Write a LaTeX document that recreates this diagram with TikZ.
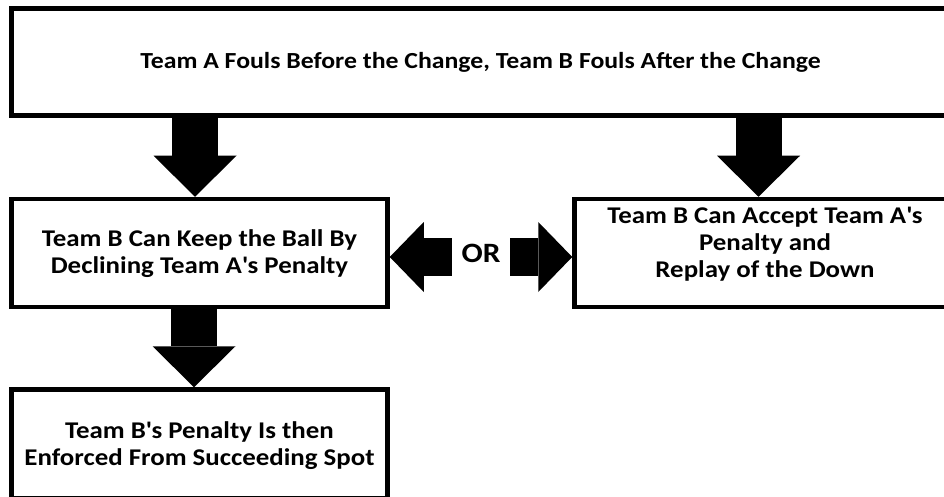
\documentclass[tikz,border=0pt]{standalone}
\usepackage{fontspec}
\setmainfont{Carlito}[FakeStretch=1.12]
\usetikzlibrary{arrows.meta,positioning}

\begin{document}
\begin{tikzpicture}[
  x=1pt, y=-1pt,
  box/.style={draw, line width=4.5pt, align=center, inner sep=0pt, font=\bfseries\fontsize{24}{27}\selectfont},
  downarrow/.style={line width=46pt, -{Triangle[width=83pt, length=41pt, line width=0pt]}},
  sidearrow/.style={line width=38pt, -{Triangle[width=70pt, length=34pt, line width=0pt]}}
]
\useasboundingbox (0,0) rectangle (944,497);

\node[box, minimum width=938pt, minimum height=107pt, font=\bfseries\fontsize{23}{27}\selectfont] (fouls) at (480.5,62) {Team A Fouls Before the Change, Team B Fouls After the Change};
\node[box, minimum width=376pt, minimum height=108pt, text depth=2pt] (decline) at (199.5,253) {Team B Can Keep the Ball By\\Declining Team A\textquotesingle s Penalty};
\node[box, right=182.5pt of decline, minimum width=381pt, minimum height=108pt, text depth=21pt] (accept) {Team B Can Accept Team A\textquotesingle s\\Penalty and\\Replay of the Down};
\node[box, below=78pt of decline, minimum width=376pt, minimum height=109pt, text depth=0pt] (enforce) {Team B\textquotesingle s Penalty Is then\\Enforced From Succeeding Spot};
\node[font=\bfseries\fontsize{28}{34}\selectfont, inner xsep=9.5pt, inner ysep=0pt, text depth=7pt] (or) at (481,257) {OR};

% big block arrows
\coordinate (d1) at ([xshift=-4.5pt]decline.north);
\coordinate (d2) at ([xshift=-6.5pt]accept.north);
\coordinate (d3) at ([xshift=-5.5pt]decline.south);
\draw[downarrow] (d1 |- fouls.south) -- (d1);
\draw[downarrow] (d2 |- fouls.south) -- (d2);
\draw[downarrow] (d3) -- (d3 |- enforce.north);
\draw[sidearrow] (or.west) -- (or.west -| decline.east);
\draw[sidearrow] (or.east) -- (or.east -| accept.west);
\end{tikzpicture}
\end{document}
